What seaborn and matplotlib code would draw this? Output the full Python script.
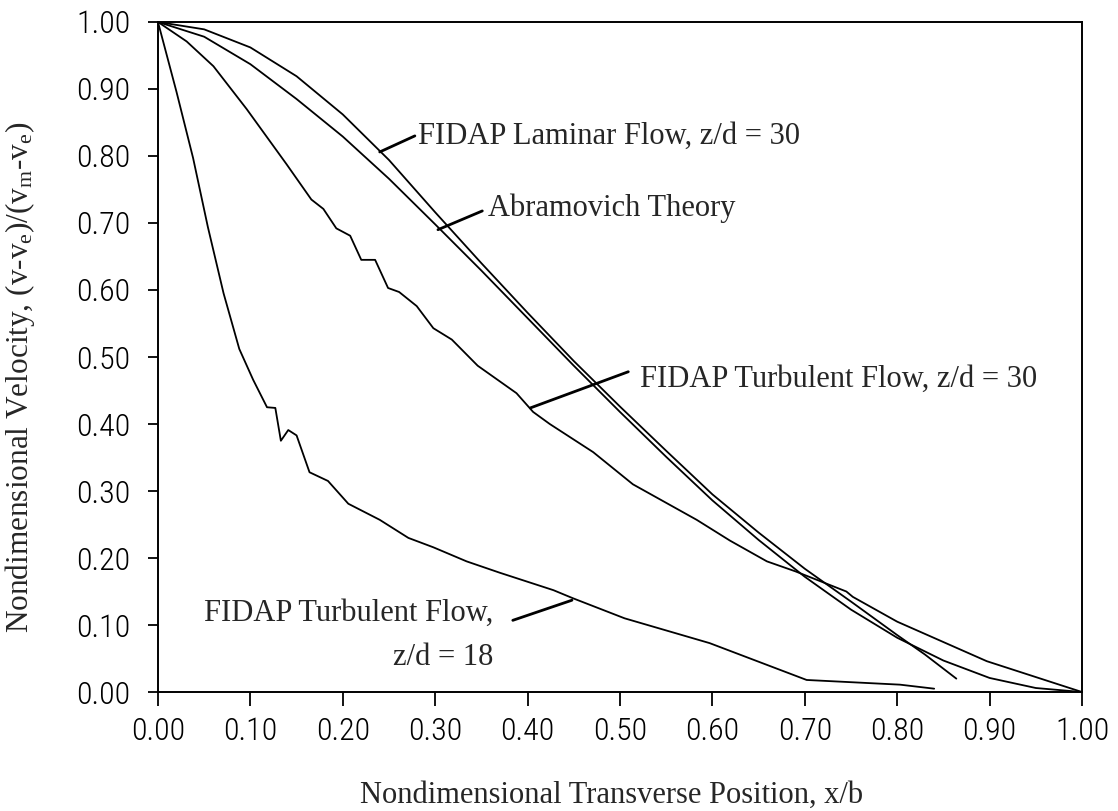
import numpy as np
import pandas as pd
import matplotlib
matplotlib.use("Agg")
import matplotlib.pyplot as plt
import seaborn as sns

# ---- data ----
x_laminar = [0.0, 0.05, 0.10, 0.15, 0.20, 0.25, 0.30, 0.35, 0.40, 0.45, 0.50,
             0.55, 0.60, 0.65, 0.70, 0.75, 0.80, 0.83, 0.864]
y_laminar = [1.0, 0.989, 0.962, 0.919, 0.862, 0.794, 0.716, 0.640, 0.566, 0.494, 0.426,
             0.360, 0.295, 0.238, 0.184, 0.135, 0.085, 0.056, 0.020]

x_abram = [0.0, 0.05, 0.10, 0.15, 0.20, 0.25, 0.30, 0.35, 0.40, 0.45, 0.50,
           0.55, 0.60, 0.65, 0.70, 0.75, 0.80, 0.85, 0.90, 0.95, 1.0]
y_abram = [1.0, 0.978, 0.937, 0.885, 0.829, 0.766, 0.698, 0.629, 0.558, 0.487, 0.418,
           0.351, 0.286, 0.227, 0.172, 0.123, 0.081, 0.047, 0.021, 0.006, 0.0]

x_turb30 = [0.0, 0.031, 0.060, 0.096, 0.139, 0.166, 0.179, 0.193, 0.208, 0.220, 0.235,
            0.249, 0.261, 0.280, 0.298, 0.318, 0.346, 0.388, 0.406, 0.424, 0.471,
            0.514, 0.583, 0.619, 0.659, 0.690, 0.745, 0.752, 0.800, 0.897, 1.0]
y_turb30 = [1.0, 0.971, 0.934, 0.870, 0.788, 0.735, 0.721, 0.692, 0.681, 0.645, 0.645,
            0.603, 0.597, 0.576, 0.543, 0.526, 0.487, 0.446, 0.418, 0.400, 0.358,
            0.310, 0.257, 0.226, 0.195, 0.180, 0.150, 0.142, 0.105, 0.046, 0.0]

x_turb18 = [0.0, 0.020, 0.038, 0.054, 0.071, 0.088, 0.103, 0.118, 0.127, 0.133, 0.141,
            0.150, 0.164, 0.184, 0.206, 0.240, 0.271, 0.298, 0.334, 0.370, 0.428,
            0.449, 0.505, 0.597, 0.702, 0.803, 0.840]
y_turb18 = [1.0, 0.896, 0.797, 0.694, 0.595, 0.512, 0.466, 0.425, 0.424, 0.375, 0.391,
            0.383, 0.328, 0.315, 0.281, 0.257, 0.230, 0.216, 0.195, 0.178, 0.152,
            0.140, 0.110, 0.073, 0.018, 0.011, 0.005]

tick_vals = [0.0, 0.1, 0.2, 0.3, 0.4, 0.5, 0.6, 0.7, 0.8, 0.9, 1.0]
tick_labels = ["0.00", "0.10", "0.20", "0.30", "0.40", "0.50",
               "0.60", "0.70", "0.80", "0.90", "1.00"]

label_laminar = "FIDAP Laminar Flow, z/d = 30"
label_abram = "Abramovich Theory"
label_turb30 = "FIDAP Turbulent Flow, z/d = 30"
label_turb18_a = "FIDAP Turbulent Flow,"
label_turb18_b = "z/d = 18"

# ---- styling ----
sns.set_theme(style="ticks")
plt.rcParams["font.family"] = ["Liberation Serif", "DejaVu Serif"]
plt.rcParams["mathtext.fontset"] = "custom"
plt.rcParams["mathtext.rm"] = "Liberation Serif"
plt.rcParams["mathtext.it"] = "Liberation Serif:italic"

fig = plt.figure(figsize=(11.18, 8.11), dpi=100)
ax = fig.add_axes([0.1413, 0.1467, 0.8265, 0.8262])

frames = []
for name, xs, ys in [("laminar", x_laminar, y_laminar),
                     ("abram", x_abram, y_abram),
                     ("turb30", x_turb30, y_turb30),
                     ("turb18", x_turb18, y_turb18)]:
    frames.append(pd.DataFrame({"x": xs, "y": ys, "series": name}))
df = pd.concat(frames, ignore_index=True)

sns.lineplot(data=df, x="x", y="y", units="series", estimator=None, sort=False,
             color="black", linewidth=1.3, ax=ax, legend=False)

ax.set_xlim(0, 1)
ax.set_ylim(0, 1)
ax.set_xticks(tick_vals)
ax.set_xticklabels(tick_labels)
ax.set_yticks(tick_vals)
ax.set_yticklabels(tick_labels)

tick_font = ["Roboto Condensed", "DejaVu Sans"]
for lab in ax.get_xticklabels() + ax.get_yticklabels():
    lab.set_family(tick_font)
    lab.set_fontsize(23)
    lab.set_fontweight("light")
    lab.set_color("#111111")

ax.tick_params(axis="x", direction="out", length=10, width=1.3, pad=8, colors="black")
ax.tick_params(axis="y", direction="out", length=7, width=1.3, pad=13, colors="black")
for sp in ax.spines.values():
    sp.set_visible(True)
    sp.set_linewidth(1.4)
    sp.set_color("black")

ax.set_xlabel("Nondimensional Transverse Position, x/b", fontsize=22)
ax.set_ylabel("Nondimensional Velocity, (v-v$_{\\rm e}$)/(v$_{\\rm m}$-v$_{\\rm e}$)", fontsize=22.5)
ax.xaxis.set_label_coords(0.491, -0.133)
ax.yaxis.set_label_coords(-0.131, 0.47)

# ---- annotations ----
lead = dict(arrowstyle="-", lw=2.0, color="black", shrinkA=0, shrinkB=0)
ax.annotate("", xy=(0.240, 0.806), xytext=(0.278, 0.830), arrowprops=lead)
ax.text(0.281, 0.829, label_laminar, fontsize=22, va="center", ha="left")

ax.annotate("", xy=(0.303, 0.690), xytext=(0.351, 0.718), arrowprops=lead)
ax.text(0.357, 0.722, label_abram, fontsize=22, va="center", ha="left")

ax.annotate("", xy=(0.403, 0.424), xytext=(0.509, 0.478), arrowprops=lead)
ax.text(0.522, 0.466, label_turb30, fontsize=22, va="center", ha="left")

ax.annotate("", xy=(0.448, 0.137), xytext=(0.384, 0.107), arrowprops=lead)
ax.text(0.363, 0.118, label_turb18_a, fontsize=22, va="center", ha="right")
ax.text(0.363, 0.052, label_turb18_b, fontsize=22, va="center", ha="right")

fig.savefig("out.png", dpi=100, facecolor="white")
